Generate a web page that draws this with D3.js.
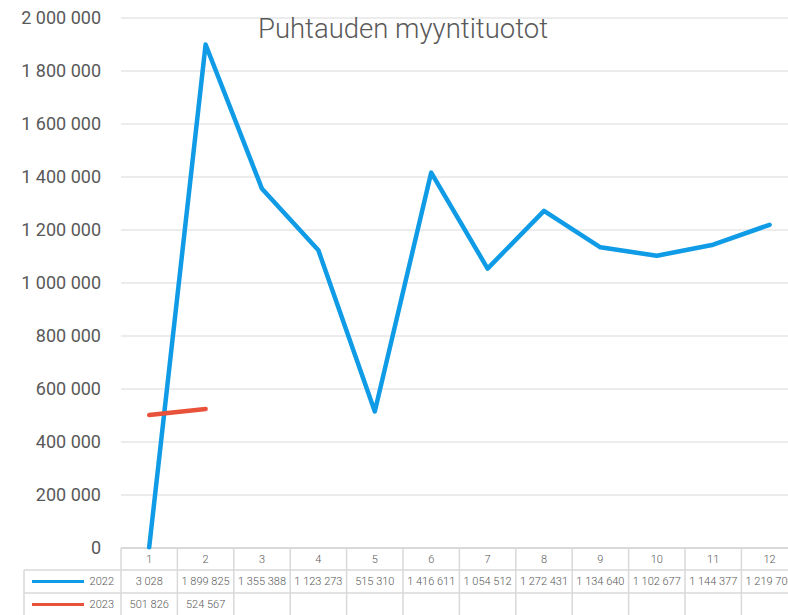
<!DOCTYPE html>
<html><head><meta charset="utf-8">
<script src="https://cdn.jsdelivr.net/npm/d3@7"></script>
<style>body{margin:0;background:#fff}svg{display:block}text{font-family:Roboto,"Open Sans",sans-serif}</style>
</head><body><svg id="c" width="788" height="615"></svg>
<script>
const title = "Puhtauden myyntituotot";
const categories = ["1","2","3","4","5","6","7","8","9","10","11","12"];
const seriesNames = ["2022","2023"];
const values2022 = [3028,1899825,1355388,1123273,515310,1416611,1054512,1272431,1134640,1102677,1144377,1219700];
const values2023 = [501826,524567];
const colors = ["#0f9be6","#e8523a"];
const yTicks = [0,200000,400000,600000,800000,1000000,1200000,1400000,1600000,1800000,2000000];

const svg = d3.select("#c");
const plotLeft = 121, colW = 56.4, plotTop = 18, plotBottom = 548;
const x = d3.scaleBand().domain(categories).range([plotLeft, plotLeft + colW*12]).padding(0);
const y = d3.scaleLinear().domain([0,2000000]).range([plotBottom, plotTop]);
const fmt = v => d3.format(",")(v).replace(/,/g," ");
const grey = "#d9d9d9", txt = "#595959";

// gridlines
svg.append("g").selectAll("line").data(yTicks).join("line")
  .attr("x1", plotLeft).attr("x2", 800).attr("y1", d=>y(d)).attr("y2", d=>y(d))
  .attr("stroke", grey).attr("stroke-width", 1);
// y labels
svg.append("g").selectAll("text").data(yTicks).join("text")
  .attr("x", 101).attr("y", d=>y(d)).attr("dy","0.35em").attr("text-anchor","end")
  .attr("font-size", 18).attr("fill", txt).text(fmt);

// title
svg.append("text").attr("x", 403).attr("y", 38).attr("text-anchor","middle")
  .attr("font-size", 27.5).attr("font-weight", 300).attr("fill", txt).text(title);

// data table
const rowY = [548, 570, 593, 616];
const tg = svg.append("g");
const colEdges = categories.map(c => x(c)).concat([x(categories[11]) + x.bandwidth()]);
tg.append("line").attr("x1", plotLeft).attr("x2", 800).attr("y1", rowY[0]).attr("y2", rowY[0]).attr("stroke", grey).attr("stroke-width",2);
[1,2].forEach(i => tg.append("line").attr("x1", 24).attr("x2", 800).attr("y1", rowY[i]).attr("y2", rowY[i]).attr("stroke", grey).attr("stroke-width",1.5));
colEdges.forEach(e => tg.append("line").attr("x1", e).attr("x2", e).attr("y1", rowY[0]).attr("y2", 615).attr("stroke", grey).attr("stroke-width",1.5));
tg.append("line").attr("x1", 24).attr("x2", 24).attr("y1", rowY[1]).attr("y2", 615).attr("stroke", grey).attr("stroke-width",1.5);
tg.selectAll("text.cat").data(categories).join("text").attr("class","cat")
  .attr("x", d => x(d) + x.bandwidth()/2).attr("y", (rowY[0]+rowY[1])/2).attr("dy","0.35em")
  .attr("text-anchor","middle").attr("font-size", 11).attr("font-weight", 300).attr("fill", txt).text(d=>d);
const allSeries = [values2022, values2023];
allSeries.forEach((vals, si) => {
  const cy = (rowY[si+1] + rowY[si+2]) / 2;
  tg.append("line").attr("x1", 32).attr("x2", 84).attr("y1", cy).attr("y2", cy)
    .attr("stroke", colors[si]).attr("stroke-width", 3);
  tg.append("text").attr("x", 114).attr("y", cy).attr("dy","0.35em").attr("text-anchor","end")
    .attr("font-size", 11).attr("font-weight", 300).attr("fill", txt).text(seriesNames[si]);
  tg.selectAll(null).data(vals).join("text")
    .attr("x", (d,i) => x(categories[i]) + x.bandwidth()/2).attr("y", cy).attr("dy","0.35em")
    .attr("text-anchor","middle").attr("font-size", 11).attr("font-weight", 300).attr("fill", txt).text(fmt);
});

// lines
const line = d3.line().x((d,i) => x(categories[i]) + x.bandwidth()/2).y(d => y(d));
allSeries.forEach((vals, si) => {
  svg.append("path").datum(vals).attr("d", line).attr("fill","none")
    .attr("stroke", colors[si]).attr("stroke-width", 4.5)
    .attr("stroke-linejoin","round").attr("stroke-linecap","round");
});
</script></body></html>
